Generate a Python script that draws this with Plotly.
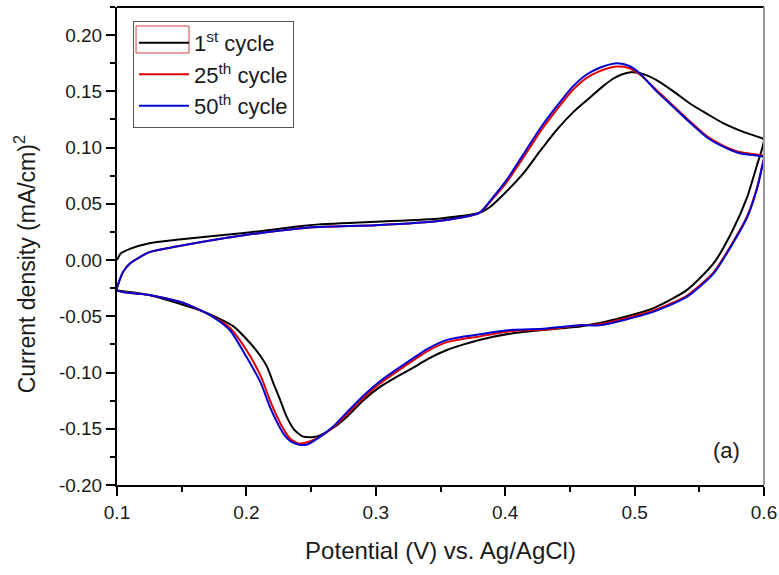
import plotly.graph_objects as go

# ---------------- data ----------------
# 1st cycle: anodic (forward) and cathodic (reverse) sweeps
c1_fwd_x = [0.100, 0.103, 0.110, 0.125, 0.146, 0.198, 0.249, 0.300, 0.350, 0.380, 0.388, 0.401, 0.414,
            0.427, 0.440, 0.453, 0.466, 0.475, 0.483, 0.490, 0.497, 0.505, 0.517, 0.530, 0.543, 0.556,
            0.568, 0.584, 0.599]
c1_fwd_y = [0.000, 0.006, 0.010, 0.015, 0.018, 0.024, 0.031, 0.034, 0.037, 0.042, 0.047, 0.061, 0.077,
            0.097, 0.116, 0.132, 0.145, 0.154, 0.161, 0.165, 0.167, 0.166, 0.160, 0.150, 0.139, 0.130,
            0.122, 0.114, 0.108]
c1_rev_x = [0.600, 0.598, 0.595, 0.587, 0.576, 0.561, 0.540, 0.512, 0.473, 0.458, 0.430, 0.406, 0.380,
            0.368, 0.355, 0.340, 0.330, 0.319, 0.303, 0.290, 0.278, 0.266, 0.254, 0.244, 0.237, 0.231,
            0.226, 0.221, 0.216, 0.210, 0.203, 0.190, 0.177, 0.165, 0.149, 0.125, 0.100]
c1_rev_y = [0.107, 0.097, 0.086, 0.056, 0.027, -0.003, -0.027, -0.044, -0.056, -0.059, -0.062, -0.065, -0.071,
            -0.075, -0.080, -0.088, -0.095, -0.102, -0.113, -0.125, -0.139, -0.150, -0.157, -0.157, -0.151,
            -0.139, -0.124, -0.110, -0.095, -0.084, -0.074, -0.059, -0.051, -0.045, -0.039, -0.031, -0.027]

# 25th and 50th cycles (same potential grid)
cn_fwd_x = [0.100, 0.102, 0.105, 0.110, 0.125, 0.146, 0.198, 0.249, 0.300, 0.350, 0.380, 0.390, 0.401,
            0.414, 0.427, 0.440, 0.452, 0.463, 0.473, 0.481, 0.487, 0.495, 0.504, 0.517, 0.530, 0.543,
            0.556, 0.568, 0.581, 0.599]
cn_rev_x = [0.600, 0.598, 0.595, 0.587, 0.576, 0.561, 0.540, 0.512, 0.473, 0.458, 0.430, 0.406, 0.380,
            0.368, 0.355, 0.340, 0.319, 0.303, 0.290, 0.278, 0.268, 0.257, 0.247, 0.240, 0.234, 0.229,
            0.224, 0.218, 0.211, 0.200, 0.187, 0.172, 0.151, 0.125, 0.100]

c25_fwd_y = [-0.027, -0.018, -0.010, -0.003, 0.007, 0.012, 0.022, 0.029, 0.031, 0.035, 0.042, 0.054, 0.069,
             0.091, 0.114, 0.134, 0.151, 0.162, 0.168, 0.171, 0.172, 0.171, 0.165, 0.151, 0.137, 0.123,
             0.110, 0.102, 0.096, 0.093]
c25_rev_y = [0.092, 0.081, 0.066, 0.039, 0.016, -0.011, -0.032, -0.046, -0.057, -0.058, -0.062, -0.063, -0.068,
             -0.070, -0.073, -0.081, -0.097, -0.110, -0.123, -0.137, -0.148, -0.157, -0.162, -0.163, -0.159,
             -0.151, -0.140, -0.124, -0.103, -0.080, -0.060, -0.049, -0.038, -0.031, -0.027]

c50_fwd_y = [-0.027, -0.018, -0.010, -0.003, 0.007, 0.012, 0.022, 0.029, 0.031, 0.035, 0.042, 0.055, 0.071,
             0.094, 0.117, 0.137, 0.154, 0.165, 0.171, 0.174, 0.175, 0.173, 0.166, 0.150, 0.136, 0.122,
             0.109, 0.101, 0.095, 0.092]
c50_rev_y = [0.091, 0.080, 0.065, 0.038, 0.015, -0.012, -0.033, -0.047, -0.058, -0.058, -0.061, -0.062, -0.066,
             -0.068, -0.071, -0.079, -0.095, -0.108, -0.121, -0.135, -0.147, -0.157, -0.164, -0.164, -0.161,
             -0.155, -0.145, -0.130, -0.109, -0.086, -0.062, -0.049, -0.038, -0.031, -0.027]

names = ["1<sup>st</sup> cycle", "25<sup>th</sup> cycle", "50<sup>th</sup> cycle"]
colors = ["#000000", "#e00000", "#0000d0"]

x_tickvals = [0.1, 0.2, 0.3, 0.4, 0.5, 0.6]
x_ticktext = ["0.1", "0.2", "0.3", "0.4", "0.5", "0.6"]
y_tickvals = [-0.20, -0.15, -0.10, -0.05, 0.00, 0.05, 0.10, 0.15, 0.20]
y_ticktext = ["-0.20", "-0.15", "-0.10", "-0.05", "0.00", "0.05", "0.10", "0.15", "0.20"]

x_title = "Potential (V) vs. Ag/AgCl)"
y_title = "Current density (mA/cm)<sup>2</sup>"

series = [
    (c1_fwd_x + c1_rev_x, c1_fwd_y + c1_rev_y),
    (cn_fwd_x + cn_rev_x, c25_fwd_y + c25_rev_y),
    (cn_fwd_x + cn_rev_x, c50_fwd_y + c50_rev_y),
]

FONT = "Arial, Liberation Sans, sans-serif"
TXT = "#1a1a1a"

fig = go.Figure()
for (xs, ys), nm, col in zip(series, names, colors):
    fig.add_trace(go.Scatter(x=xs, y=ys, mode="lines", name=nm,
                             line=dict(color=col, width=2, shape="spline", smoothing=0.6)))

axis_common = dict(showgrid=False, zeroline=False, showline=True, linecolor="black", linewidth=2,
                   ticks="outside", ticklen=9, tickwidth=2, tickcolor="black", automargin=False,
                   ticklabeloverflow="allow",
                   tickfont=dict(family=FONT, size=19, color=TXT))

fig.update_xaxes(range=[0.1, 0.6], tickvals=x_tickvals, ticktext=x_ticktext,
                 minor=dict(ticks="outside", ticklen=5, tickwidth=2, tickcolor="black", dtick=0.05, tick0=0.1),
                 title=dict(text=x_title, font=dict(family=FONT, size=24, color=TXT), standoff=20),
                 **axis_common)
fig.update_yaxes(range=[-0.2, 0.225], tickvals=y_tickvals, ticktext=y_ticktext,
                 minor=dict(ticks="outside", ticklen=5, tickwidth=2, tickcolor="black", dtick=0.025, tick0=-0.2),
                 **axis_common)

# y-axis title placed as rotated text (centred slightly below the plot middle, as in the reference)
fig.add_annotation(text=y_title, xref="paper", yref="paper", x=-0.142, y=0.462,
                   xanchor="center", yanchor="middle", textangle=-90, showarrow=False,
                   font=dict(family=FONT, size=23, color=TXT))

# frame: top (black) and right (grey)
fig.add_shape(type="line", xref="paper", yref="paper", x0=0, x1=1, y0=1, y1=1,
              line=dict(color="black", width=2))
fig.add_shape(type="line", xref="paper", yref="paper", x0=1, x1=1, y0=0, y1=1,
              line=dict(color="#999999", width=2))
# red selection box around first legend sample
fig.add_shape(type="rect", xref="paper", yref="paper", x0=0.0294, x1=0.1113, y0=0.9038, y1=0.9603,
              line=dict(color="#d04040", width=1))

fig.add_annotation(text="(a)", xref="x", yref="y", x=0.5714, y=-0.169, showarrow=False,
                   font=dict(family=FONT, size=22, color=TXT))

fig.update_layout(
    width=779, height=575,
    margin=dict(l=117, r=15, t=7, b=90),
    plot_bgcolor="white", paper_bgcolor="white",
    showlegend=True,
    legend=dict(x=0.0247, y=0.971, xanchor="left", yanchor="top",
                bgcolor="rgba(0,0,0,0)", bordercolor="#555555", borderwidth=1,
                font=dict(family=FONT, size=22, color=TXT), tracegroupgap=0,
                itemwidth=50),
)

fig.write_html("out.html", config={"displayModeBar": False},
               post_script="document.body.style.margin='0px';")
